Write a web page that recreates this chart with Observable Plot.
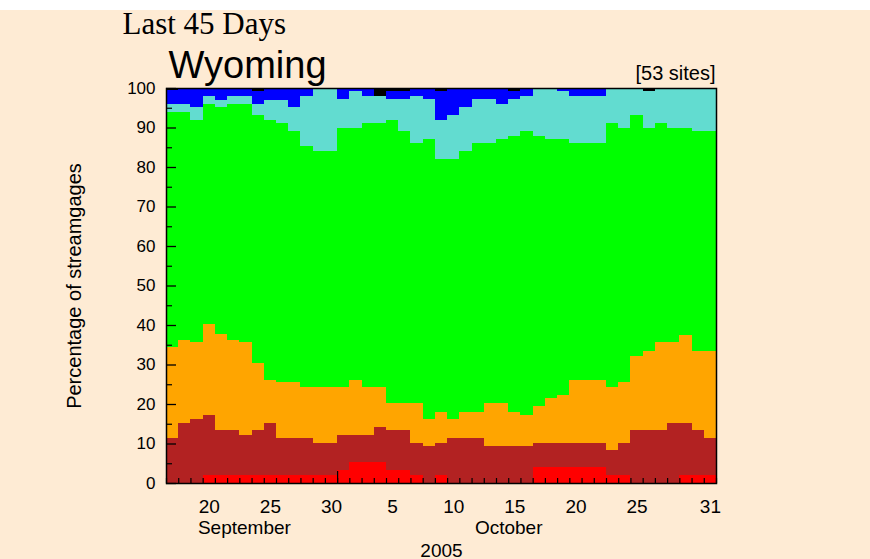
<!DOCTYPE html>
<html>
<head>
<meta charset="utf-8">
<script src="https://cdn.jsdelivr.net/npm/d3@7"></script>
<script src="https://cdn.jsdelivr.net/npm/@observablehq/plot@0.6"></script>
<style>
html, body { margin: 0; padding: 0; background: #ffffff; overflow: hidden; }
#chart { margin-top: 10px; width: 870px; height: 549px; }
#chart svg { display: block; }
</style>
</head>
<body>
<div id="chart"></div>
<script>
// ---- data ----
const categories = ["Low", "Much below normal", "Below normal", "Normal", "Above normal", "Much above normal", "High"];
const colors = ["#ff0000", "#b22222", "#ffa500", "#00ff00", "#62dcd0", "#0000ff", "#000000"];

// percentage of streamgages in each class, Sep 17 – Oct 31, 2005
const low = [0,0,0,2.1,2.1,2.1,2.1,2.1,2.1,2.1,2.1,2.1,2.1,2.1,3.2,5.3,5.3,5.3,3.2,3.2,2.1,0,2.1,0,0,0,0,0,0,0,4.0,4.0,4.0,4.0,4.0,4.0,2.1,2.1,0,0,0,0,2.1,2.1,2.1];
const muchBelow = [11.5,15.3,16.2,15.2,11.3,11.3,10.0,11.3,13.2,9.4,9.4,9.4,8.1,8.1,8.9,6.8,6.8,8.9,10.1,10.1,8.1,9.4,8.1,11.3,11.3,11.3,9.4,9.4,9.4,9.4,6.2,6.2,6.2,6.2,6.2,6.2,6.2,8.1,13.4,13.4,13.4,15.3,13.2,11.3,9.2];
const below = [22.9,21.0,19.4,23.0,24.3,22.9,23.5,16.9,10.9,14.1,14.1,12.9,14.2,14.2,12.3,14.1,12.2,10.1,7.0,7.0,10.1,6.8,7.9,4.9,6.8,6.8,10.9,10.9,8.7,7.9,9.3,11.2,12.0,16.0,16.0,16.0,16.1,15.4,18.8,20.1,22.2,20.3,22.2,20.1,22.2];
const normal = [59.5,57.6,56.4,55.7,57.5,59.7,60.4,62.9,65.8,65.5,63.6,60.8,59.7,59.7,65.5,63.7,66.8,66.8,71.7,68.9,65.8,70.9,64.0,65.9,66.0,68.0,65.8,66.8,69.8,71.9,68.4,65.7,64.9,59.9,59.9,59.9,66.7,64.3,61.0,56.4,55.5,54.3,52.4,55.7,55.7];
const above = [2.1,2.1,3.2,1.9,1.8,1.9,1.9,2.8,5.0,5.9,6.0,12.7,15.9,15.9,7.3,9.3,7.0,7.0,5.2,8.0,12.0,10.1,9.9,11.1,11.1,11.1,11.1,8.9,9.3,8.9,12.1,12.9,12.1,12.0,12.0,12.0,8.9,10.1,6.8,9.3,8.9,10.1,10.1,10.8,10.8];
const muchAbove = [3.5,4.0,4.8,2.1,3.0,2.1,2.1,3.2,3.0,3.0,4.8,2.1,0,0,2.8,0.8,1.9,0,2.0,2.0,1.9,2.8,7.2,6.8,4.8,2.8,2.8,4.0,2.0,1.9,0,0,0.8,1.9,1.9,1.9,0,0,0,0,0,0,0,0,0];
const high = [0.5,0,0,0,0,0,0,0.8,0,0,0,0,0,0,0,0,0,1.9,0.8,0.8,0,0,0.8,0,0,0,0,0,0.8,0,0,0,0,0,0,0,0,0,0,0.8,0,0,0,0,0];

const firstDay = "2005-09-17";
const endDay = "2005-11-01";
const monthStart = "2005-10-01";
const yTicks = [0,10,20,30,40,50,60,70,80,90,100];
const yMinor = [5,15,25,35,45,55,65,75,85,95];
const tickLabels = ["20","25","30","5","10","15","20","25","31"];
const tickDates = ["2005-09-20","2005-09-25","2005-09-30","2005-10-05","2005-10-10","2005-10-15","2005-10-20","2005-10-25","2005-10-31"];
const monthLabels = ["September", "October"];
const monthAt = ["2005-09-23T09:00Z", "2005-10-15T00:00Z"];
const yearLabel = "2005";
const title = "Last 45 Days";
const stateName = "Wyoming";
const siteNote = "[53 sites]";
const yLabel = "Percentage of streamgages";

// ---- build ----
const parse = s => new Date(s.length === 10 ? s + "T00:00Z" : s);
const dates = d3.utcDays(parse(firstDay), parse(endDay));
const series = [low, muchBelow, below, normal, above, muchAbove, high];
const table = categories.flatMap((c, k) => dates.map((d, i) => ({date: d, cat: c, value: series[k][i]})));
const boundaries = d3.utcDays(parse(firstDay), d3.utcDay.offset(parse(endDay), 1));
const noon = s => d3.utcHour.offset(parse(s), 12);
const sans = "'Liberation Sans', Arial, Helvetica, sans-serif";
const blank = () => "";

const chart = Plot.plot({
  width: 870,
  height: 549,
  marginLeft: 166,
  marginRight: 154,
  marginTop: 78,
  marginBottom: 76,
  style: {background: "#feebd4", fontFamily: sans, fontSize: "17px", color: "black", overflow: "visible"},
  x: {type: "utc", domain: [parse(firstDay), parse(endDay)], label: null},
  y: {domain: [0, 100], label: null},
  color: {domain: categories, range: colors},
  marks: [
    Plot.rectY(table, {x: "date", interval: d3.utcDay, y: "value", fill: "cat", inset: 0, shapeRendering: "crispEdges"}),
    Plot.axisY({ticks: yTicks, tickSize: 0, tickPadding: 11, fontSize: 17, label: null}),
    Plot.axisY({ticks: yTicks, tickSize: 10, dx: 10, tickFormat: blank, strokeWidth: 1.3, label: null}),
    Plot.axisY({ticks: yMinor, tickSize: 6, dx: 6, tickFormat: blank, strokeWidth: 1.2, label: null}),
    Plot.axisX({ticks: boundaries, tickSize: 5, dy: -5, tickFormat: blank, strokeWidth: 1.2, label: null}),
    Plot.axisX({ticks: [parse(monthStart)], tickSize: 12, dy: -12, tickFormat: blank, strokeWidth: 1.2, label: null}),
    Plot.text(tickLabels, {x: (d, i) => noon(tickDates[i]), text: d => d, frameAnchor: "bottom", dy: 29, lineAnchor: "bottom", fontSize: 19}),
    Plot.text(monthLabels, {x: (d, i) => parse(monthAt[i]), text: d => d, frameAnchor: "bottom", dy: 50, lineAnchor: "bottom", fontSize: 19}),
    Plot.text([yearLabel], {frameAnchor: "bottom", dy: 73, lineAnchor: "bottom", fontSize: 19}),
    Plot.text([yLabel], {frameAnchor: "left", dx: -92, rotate: -90, textAnchor: "middle", lineAnchor: "middle", fontSize: 20}),
    Plot.text([title], {frameAnchor: "top-left", dx: -44, dy: -55, textAnchor: "start", lineAnchor: "bottom", fontSize: 31, fontFamily: "'Liberation Serif', 'Times New Roman', serif"}),
    Plot.text([stateName], {frameAnchor: "top-left", dx: 2, dy: -11, textAnchor: "start", lineAnchor: "bottom", fontSize: 38}),
    Plot.text([siteNote], {frameAnchor: "top-right", dx: -1, dy: -9, textAnchor: "end", lineAnchor: "bottom", fontSize: 20}),
    Plot.frame({stroke: "black", strokeWidth: 1.5})
  ]
});
document.getElementById("chart").appendChild(chart);
</script>
</body>
</html>
